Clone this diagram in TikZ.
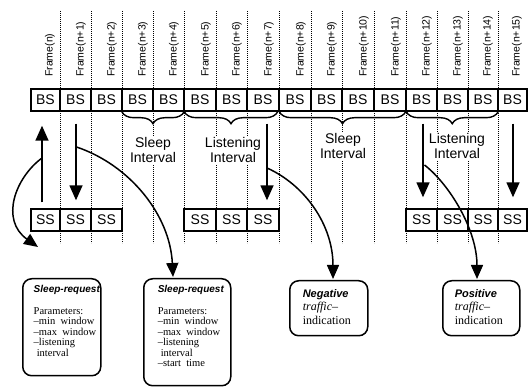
\documentclass[tikz,border=0pt]{standalone}
\usepackage{fontspec}
\setmainfont{Liberation Serif}
\setsansfont{Liberation Sans}
\usetikzlibrary{arrows.meta,decorations.pathreplacing}
\begin{document}
\begin{tikzpicture}[x=1pt,y=-1pt,
  cell/.style={draw, line width=1.4pt, fill=white, minimum height=22pt, inner sep=0pt, font=\sffamily\fontsize{14}{14}\selectfont},
  framelbl/.style={rotate=90, anchor=west, inner sep=0pt, font=\sffamily\fontsize{10.5}{12}\selectfont},
  gridline/.style={line width=0.8pt, dash pattern=on 0.8pt off 1.2pt},
  bigarrow/.style={line width=1.5pt, -{Triangle[width=13pt,length=15pt]}},
  curvearrow/.style={line width=1.5pt, -{Triangle[width=12pt,length=14pt]}},
  bracestyle/.style={line width=1.4pt, decorate, decoration={brace, amplitude=12pt, mirror}},
  ivl/.style={align=center, fill=white, inner sep=1pt, font=\sffamily\fontsize{14}{15}\selectfont},
  msgbox/.style={draw, line width=1.5pt, rounded corners=9pt, anchor=north west, inner sep=0pt},
]
\useasboundingbox (0,0) rectangle (528,387);

% frame labels and dotted frame boundaries
\foreach \i/\xl/\xr in {0/31/60,1/60/91,2/91/122,3/122/153,4/153/184,5/184/216,6/216/247,7/247/279,8/279/311,9/311/342,10/342/374,11/374/406,12/406/437,13/437/468,14/468/498,15/498/527}{
  \ifnum\i=0
    \node[framelbl] (f\i) at (\xr-10,77) {Frame(n)};
  \else
    \node[framelbl] (f\i) at (\xr-10,77) {Frame(n+\i)};
  \fi
  \ifnum\i<15
    \draw[gridline] (\xr,11) -- (\xr,243);
  \fi
}

% BS row
\foreach \i/\xl/\xr in {0/31/60,1/60/91,2/91/122,3/122/153,4/153/184,5/184/216,6/216/247,7/247/279,8/279/311,9/311/342,10/342/374,11/374/406,12/406/437,13/437/468,14/468/498,15/498/527}{
  \node[cell, minimum width={(\xr-\xl)*1pt}] (bs\i) at ({(\xl+\xr)/2},100) {BS};
}

% SS row
\foreach \i/\xl/\xr in {0/31/60,1/60/91,2/91/122,5/184/216,6/216/247,7/247/279,12/406/437,13/437/468,14/468/498,15/498/527}{
  \node[cell, minimum width={(\xr-\xl)*1pt}] (ss\i) at ({(\xl+\xr)/2},220) {SS};
}

% braces
\draw[bracestyle] ([xshift=0.5pt]bs3.south west) -- ([xshift=-0.5pt]bs4.south east);
\draw[bracestyle] ([xshift=1pt]bs5.south west) -- ([xshift=-2pt]bs7.south east);
\draw[bracestyle] ([xshift=1pt]bs8.south west) -- ([xshift=-1pt]bs11.south east);
\draw[bracestyle] ([xshift=1pt]bs12.south west) -- ([xshift=-0.5pt]bs14.south east);

\node[ivl] (sl1) at (153,150) {Sleep\\Interval};
\node[ivl] (li1) at (233,150) {Listening\\Interval};
\node[ivl] (sl2) at (343,146) {Sleep\\Interval};
\node[ivl] (li2) at (457,146) {Listening\\Interval};

% vertical arrows
\draw[bigarrow, shorten <=6pt, shorten >=14pt] ([xshift=-3.5pt]ss0.north) -- ([xshift=-3.5pt]bs0.south);
\draw[bigarrow, shorten <=12pt, shorten >=8pt] ([xshift=0.5pt]bs1.south) -- ([xshift=0.5pt]ss1.north);
\draw[bigarrow, shorten <=12pt, shorten >=8pt] ([xshift=4pt]bs7.south) -- ([xshift=4pt]ss7.north);
\draw[bigarrow, shorten <=12pt, shorten >=11pt] ([xshift=1.5pt]bs12.south) -- ([xshift=1.5pt]ss12.north);
\draw[bigarrow, shorten <=12pt, shorten >=11pt] ([xshift=0.5pt]bs15.south) -- ([xshift=0.5pt]ss15.north);

% message boxes
\node[msgbox] (box1) at (22,278) {\parbox[c][97pt][t]{78pt}{\setlength\leftskip{11pt}%
  \vspace*{7pt}%
  {\sffamily\bfseries\itshape\fontsize{10}{10.5}\selectfont Sleep-request\par}
  \vspace{11pt}
  {\fontsize{10.5}{10.5}\selectfont Parameters:\\
  \textendash min\ \ window\\
  \textendash max\ \ window\\
  \textendash listening\\
  \hspace*{3pt}interval\par}}};
\node[msgbox] (box2) at (143,278) {\parbox[c][107pt][t]{87pt}{\setlength\leftskip{14pt}%
  \vspace*{7pt}%
  {\sffamily\bfseries\itshape\fontsize{10}{10.5}\selectfont Sleep-request\par}
  \vspace{11pt}
  {\fontsize{10.5}{10.5}\selectfont Parameters:\\
  \textendash min\ \ window\\
  \textendash max\ \ window\\
  \textendash listening\\
  \hspace*{3pt}interval\\
  \textendash start\ \ time\par}}};
\node[msgbox] (box3) at (289,280) {\parbox[c][55pt][t]{78pt}{\setlength\leftskip{13pt}%
  \vspace*{8.5pt}%
  {\fontsize{12}{13.5}\selectfont{\sffamily\bfseries\itshape\fontsize{11}{13.5}\selectfont Negative}\\
  \textit{traffic\textendash}\\
  indication\par}}};
\node[msgbox] (box4) at (442,280) {\parbox[c][55pt][t]{77pt}{\setlength\leftskip{12pt}%
  \vspace*{8.5pt}%
  {\fontsize{12}{13.5}\selectfont{\sffamily\bfseries\itshape\fontsize{11}{13.5}\selectfont Positive}\\
  \textit{traffic\textendash}\\
  indication\par}}};

% curved arrows
\coordinate (ca) at (42,158);  \coordinate (ta) at (38,247);
\coordinate (cb) at (76.5,147); \coordinate (tb) at (173,277);
\coordinate (cc) at (267,168); \coordinate (tc) at (333,279);
\coordinate (cd) at (424.5,165); \coordinate (td) at (477,279);
\draw[curvearrow] (ca) .. controls (15,178) and (0,220) .. (ta);
\draw[curvearrow] (cb) .. controls (130,165) and (170,215) .. (tb);
\draw[curvearrow] (cc) .. controls (305,185) and (333,225) .. (tc);
\draw[curvearrow] (cd) .. controls (450,185) and (477,230) .. (td);
\end{tikzpicture}
\end{document}
